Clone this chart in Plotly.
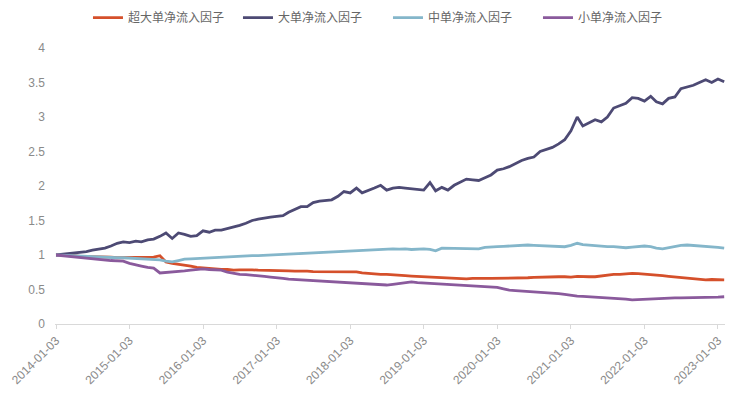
import pandas as pd
import plotly.graph_objects as go

start_date = "2014-01-03"

# monthly readings (one value per month starting 2014-01-03)
super_large = [1.00, 1.00, 0.99, 0.99, 0.98, 0.98, 0.98, 0.97, 0.97, 0.97,
               0.96, 0.96, 0.97, 0.97, 0.96, 0.97, 0.97, 0.99, 0.90, 0.88,
               0.87, 0.855, 0.84, 0.82, 0.81, 0.80, 0.79, 0.79, 0.79, 0.78,
               0.785, 0.79, 0.785, 0.78, 0.78, 0.775, 0.775, 0.77, 0.77, 0.765,
               0.77, 0.765, 0.76, 0.76, 0.76, 0.755, 0.76, 0.755, 0.755, 0.755,
               0.74, 0.73, 0.73, 0.72, 0.72, 0.71, 0.70, 0.70, 0.695, 0.69,
               0.69, 0.685, 0.68, 0.67, 0.665, 0.66, 0.65, 0.655, 0.66, 0.655,
               0.66, 0.66, 0.66, 0.665, 0.66, 0.665, 0.67, 0.67, 0.675, 0.68,
               0.675, 0.68, 0.685, 0.685, 0.68, 0.69, 0.685, 0.685, 0.685, 0.70,
               0.71, 0.72, 0.72, 0.73, 0.735, 0.73, 0.725, 0.72, 0.71, 0.70,
               0.69, 0.68, 0.67, 0.66, 0.65, 0.645, 0.64, 0.645, 0.64, 0.64]

large = [1.00, 1.01, 1.02, 1.03, 1.04, 1.05, 1.07, 1.08, 1.10, 1.13,
         1.17, 1.19, 1.18, 1.20, 1.19, 1.22, 1.23, 1.27, 1.32, 1.24,
         1.32, 1.30, 1.27, 1.28, 1.35, 1.33, 1.36, 1.36, 1.38, 1.41,
         1.43, 1.46, 1.50, 1.52, 1.54, 1.55, 1.56, 1.57, 1.62, 1.66,
         1.70, 1.70, 1.76, 1.78, 1.79, 1.80, 1.85, 1.92, 1.90, 1.97,
         1.90, 1.93, 1.97, 2.01, 1.94, 1.97, 1.98, 1.97, 1.96, 1.95,
         1.94, 2.05, 1.93, 1.98, 1.94, 2.01, 2.05, 2.10, 2.09, 2.08,
         2.12, 2.16, 2.23, 2.25, 2.28, 2.33, 2.37, 2.40, 2.42, 2.50,
         2.53, 2.56, 2.61, 2.67, 2.80, 3.00, 2.87, 2.91, 2.96, 2.93,
         3.00, 3.13, 3.17, 3.20, 3.28, 3.27, 3.23, 3.30, 3.22, 3.19,
         3.27, 3.29, 3.41, 3.43, 3.46, 3.50, 3.54, 3.50, 3.55, 3.51]

medium = [1.00, 0.995, 0.99, 0.985, 0.98, 0.98, 0.975, 0.97, 0.97, 0.965,
          0.96, 0.96, 0.955, 0.95, 0.945, 0.94, 0.94, 0.93, 0.91, 0.90,
          0.92, 0.94, 0.945, 0.95, 0.955, 0.96, 0.96, 0.965, 0.97, 0.975,
          0.98, 0.985, 0.99, 0.99, 0.995, 1.00, 1.00, 1.005, 1.01, 1.015,
          1.02, 1.02, 1.025, 1.03, 1.035, 1.04, 1.045, 1.05, 1.055, 1.06,
          1.065, 1.07, 1.08, 1.085, 1.09, 1.09, 1.085, 1.09, 1.08, 1.09,
          1.09, 1.08, 1.06, 1.10, 1.10, 1.095, 1.09, 1.10, 1.09, 1.09,
          1.11, 1.12, 1.12, 1.125, 1.13, 1.13, 1.14, 1.145, 1.14, 1.135,
          1.13, 1.125, 1.12, 1.12, 1.14, 1.17, 1.15, 1.14, 1.13, 1.125,
          1.12, 1.12, 1.11, 1.105, 1.115, 1.12, 1.13, 1.12, 1.10, 1.09,
          1.11, 1.12, 1.14, 1.145, 1.14, 1.13, 1.125, 1.12, 1.11, 1.10]

small = [1.00, 0.99, 0.98, 0.97, 0.96, 0.95, 0.945, 0.94, 0.93, 0.92,
         0.915, 0.91, 0.88, 0.855, 0.84, 0.82, 0.81, 0.74, 0.75, 0.76,
         0.765, 0.77, 0.78, 0.79, 0.80, 0.79, 0.785, 0.78, 0.75, 0.73,
         0.72, 0.715, 0.71, 0.70, 0.69, 0.68, 0.675, 0.66, 0.65, 0.645,
         0.64, 0.63, 0.625, 0.62, 0.615, 0.61, 0.605, 0.60, 0.595, 0.59,
         0.585, 0.58, 0.575, 0.57, 0.565, 0.575, 0.59, 0.60, 0.61, 0.60,
         0.595, 0.59, 0.585, 0.58, 0.575, 0.57, 0.565, 0.56, 0.555, 0.55,
         0.545, 0.54, 0.53, 0.51, 0.49, 0.485, 0.48, 0.475, 0.47, 0.465,
         0.46, 0.45, 0.44, 0.43, 0.415, 0.405, 0.40, 0.395, 0.39, 0.385,
         0.38, 0.38, 0.37, 0.36, 0.35, 0.355, 0.36, 0.37, 0.375, 0.38,
         0.38, 0.38, 0.38, 0.38, 0.38, 0.385, 0.385, 0.39, 0.39, 0.395]

series_names = ["超大单净流入因子", "大单净流入因子", "中单净流入因子", "小单净流入因子"]
series_colors = ["#D5502B", "#4D4A74", "#84B6CA", "#8A5A9C"]

tick_labels = ["2014-01-03", "2015-01-03", "2016-01-03", "2017-01-03", "2018-01-03",
               "2019-01-03", "2020-01-03", "2021-01-03", "2022-01-03", "2023-01-03"]
y_ticks = [0, 0.5, 1, 1.5, 2, 2.5, 3, 3.5, 4]
y_tick_text = ["0", "0.5", "1", "1.5", "2", "2.5", "3", "3.5", "4"]

dates = pd.date_range(start=start_date, periods=len(large), freq=pd.DateOffset(months=1))

fig = go.Figure()
for name, vals, col in zip(series_names, [super_large, large, medium, small], series_colors):
    fig.add_trace(go.Scatter(x=dates, y=vals, mode="lines", name=name,
                             line=dict(color=col, width=2.8)))

# the page body adds an 8px offset, so the figure is 8px smaller
font_family = "Liberation Sans, Arial, Noto Sans CJK SC, sans-serif"
fig.update_layout(
    width=727, height=388,
    margin=dict(l=47, r=10, t=40, b=72),
    paper_bgcolor="white", plot_bgcolor="white",
    font=dict(family=font_family, size=12, color="#8a8a8a"),
    showlegend=True,
    legend=dict(orientation="h", x=0.11, xanchor="left", y=0.975, yanchor="middle",
                yref="container", xref="container",
                font=dict(family="Noto Sans CJK SC, sans-serif", size=12, color="#666666"),
                itemwidth=30, tracegroupgap=0,
                entrywidth=105, entrywidthmode="pixels"),
)
fig.update_xaxes(
    type="date", automargin=False,
    range=["2013-12-29", "2023-02-07"],
    tickmode="array", tickvals=tick_labels, ticktext=tick_labels,
    tickangle=-45, showgrid=False, zeroline=False,
    showline=True, linecolor="#d9d9d9", linewidth=1,
    ticks="outside", ticklen=4, tickcolor="#d9d9d9",
    tickfont=dict(size=12, color="#8a8a8a"),
)
fig.update_yaxes(
    range=[0, 4.0], tickmode="array", tickvals=y_ticks, ticktext=y_tick_text,
    automargin=False,
    showgrid=False, zeroline=False, showline=False,
    ticklabelstandoff=9,
    tickfont=dict(size=12, color="#8a8a8a"),
)

fig.write_html("out.html")
